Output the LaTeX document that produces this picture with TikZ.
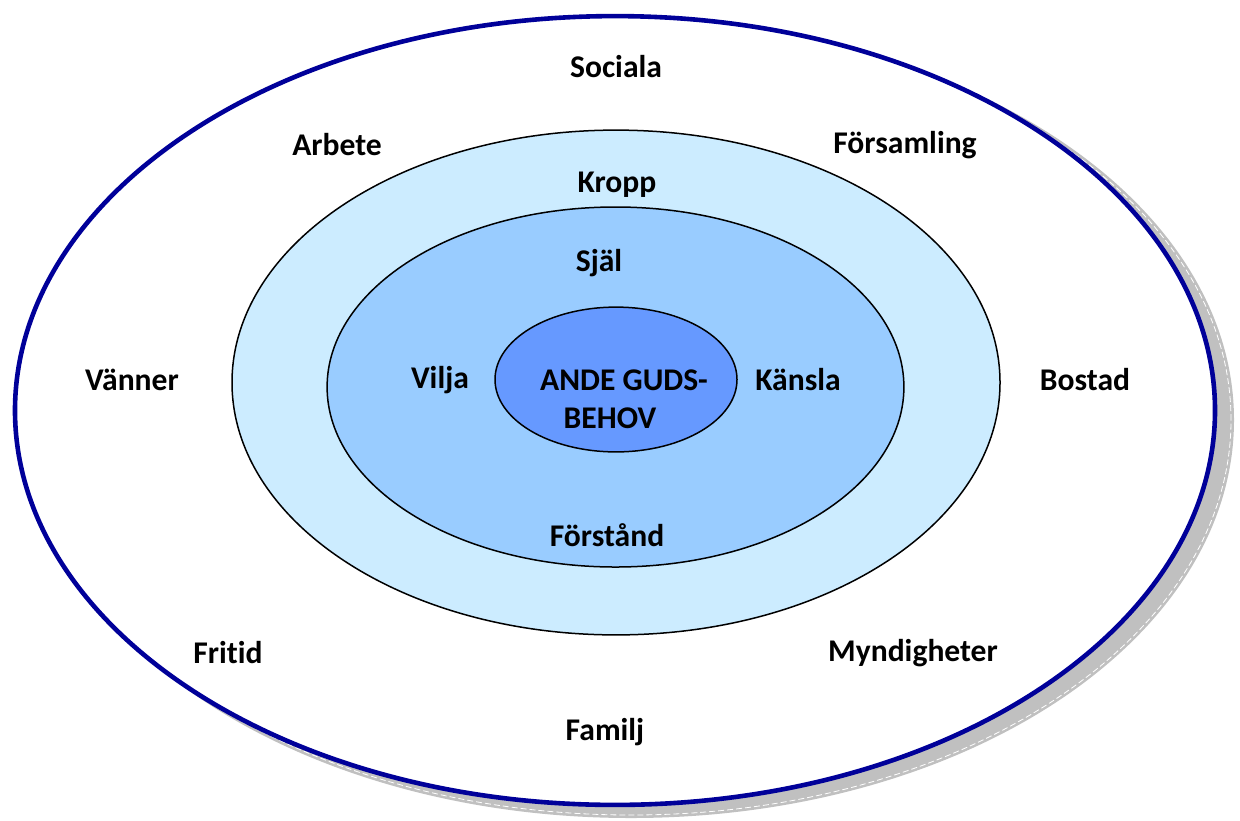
\documentclass[tikz,border=0pt]{standalone}
\usepackage{fontspec}
\setmainfont[Ligatures=NoCommon]{Carlito}
\definecolor{navyline}{HTML}{000099}
\definecolor{shadowgray}{HTML}{C0C0C0}
\definecolor{ringA}{HTML}{CCECFF}
\definecolor{ringB}{HTML}{99CCFF}
\definecolor{ringC}{HTML}{6699FF}
\begin{document}
\begin{tikzpicture}[x=0.5pt,y=-0.5pt,
  lbl/.style={font=\fontsize{15.8}{19}\selectfont\bfseries, inner sep=0pt, align=center},
  ring/.style={draw=black, line width=0.75pt}]
\useasboundingbox (0,0) rectangle (1240,820);
\coordinate (oc) at (615,410.5);
\coordinate (sc) at (631,420);
\coordinate (mc) at (616,382.5);
\coordinate (ic) at (615.5,387);
\coordinate (cc) at (616,379.5);
% shadow
\fill[shadowgray] (sc) ellipse [x radius=301.5pt, y radius=199pt];
\draw[white, line width=0.4pt, dash pattern=on 3pt off 1.5pt] (sc) ellipse [x radius=300pt, y radius=197.5pt];
% outer
\draw[fill=white, draw=navyline, line width=2.3pt] (oc) ellipse [x radius=300pt, y radius=197.2pt];
% rings
\draw[ring, fill=ringA] (mc) ellipse [x radius=192pt, y radius=126.2pt];
\draw[ring, fill=ringB] (ic) ellipse [x radius=144.2pt, y radius=90pt];
\draw[ring, fill=ringC] (cc) ellipse [x radius=60.5pt, y radius=36.2pt];
% labels
\node[lbl] (sociala) at (616,67) {Sociala};
\node[lbl] (arbete) at (337,145) {Arbete};
\node[lbl] (forsamling) at (905,145) {Församling};
\node[lbl] (kropp) at (617,185) {Kropp};
\node[lbl] (sjal) at (599,263) {Själ};
\node[lbl] (vilja) at (440,380) {Vilja};
\node[lbl] (kansla) at (798,380) {Känsla};
\node[lbl] (vanner) at (132,380) {Vänner};
\node[lbl] (bostad) at (1085,380) {Bostad};
\node[lbl] (ande) at (624,399) {ANDE GUDS-\\BEHOV\hspace*{14pt}};
\node[lbl] (forstand) at (607,535) {Förstånd};
\node[lbl] (fritid) at (228,653) {Fritid};
\node[lbl] (myndigheter) at (913,653) {Myndigheter};
\node[lbl] (familj) at (605,732) {Familj};
\end{tikzpicture}
\end{document}
